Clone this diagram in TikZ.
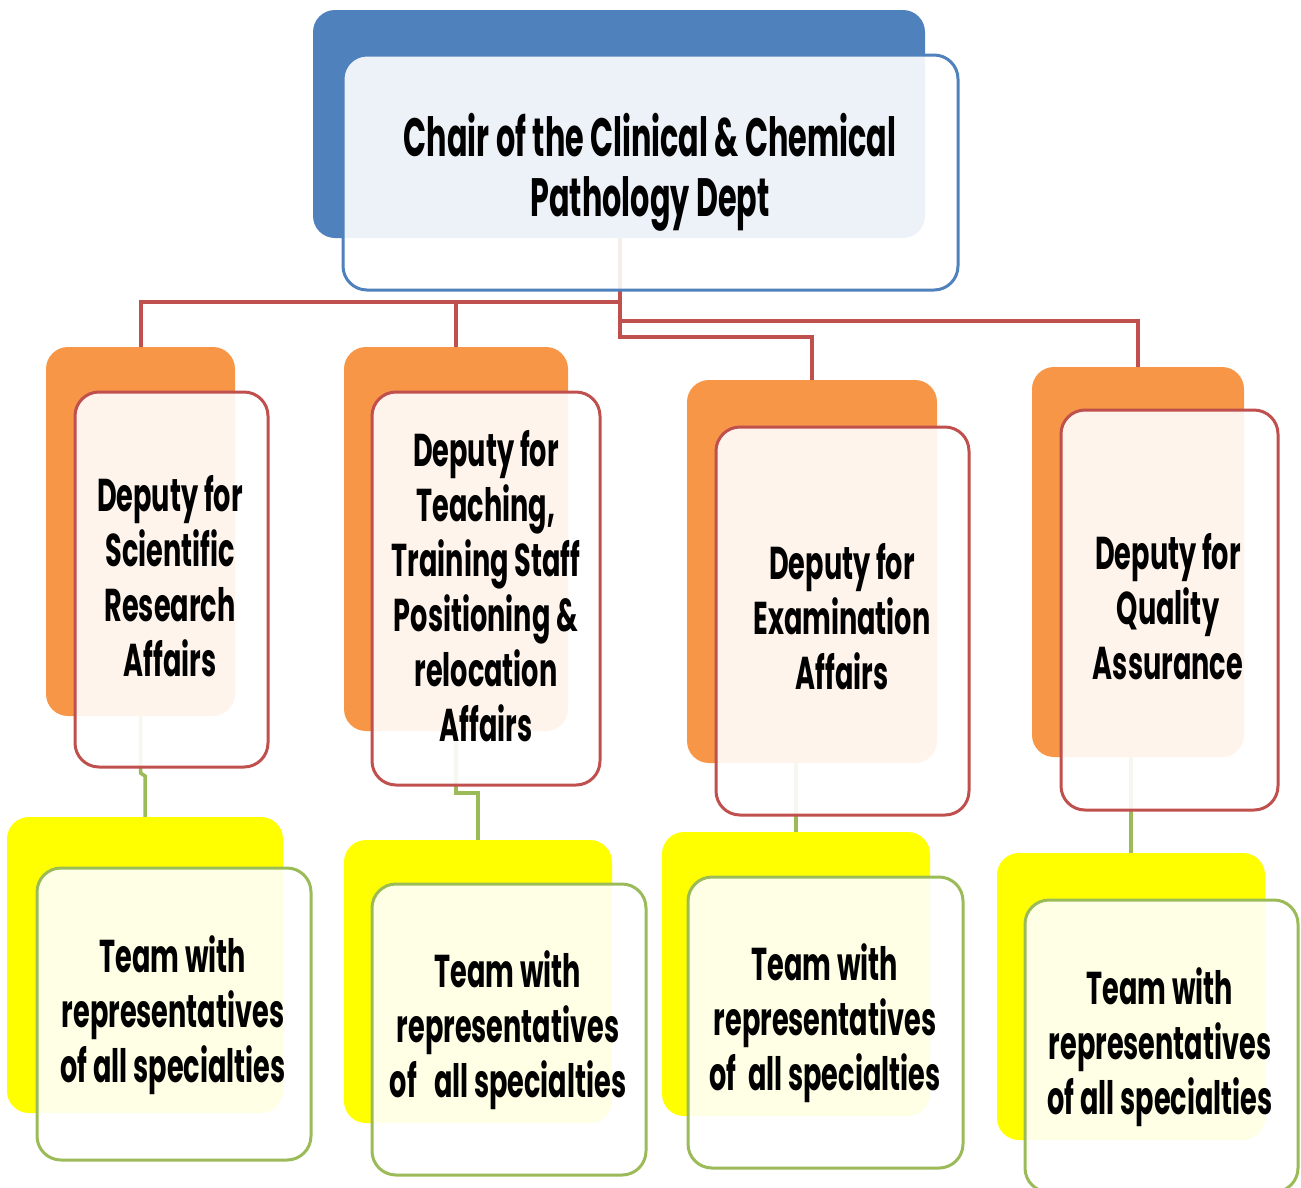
\documentclass[tikz,border=0pt]{standalone}
\usepackage{fontspec}
\newfontfamily\lab{Poppins}[FakeStretch=0.56]
\newfontfamily\labw{Poppins}[FakeStretch=0.59]
\definecolor{cblue}{HTML}{4F81BD}
\definecolor{cred}{HTML}{C0504D}
\definecolor{corange}{HTML}{F79646}
\definecolor{cgreen}{HTML}{9BBB59}
\definecolor{cyellow}{HTML}{FFFF00}
\begin{document}
\begin{tikzpicture}[x=1pt,y=-1pt,
  backbox/.style={fill=#1, draw=none, rounded corners=22pt, inner sep=0pt, outer sep=0pt},
  frontbox/.style={draw=#1, line width=3pt, fill=white, fill opacity=0.9, rounded corners=24pt, inner sep=0pt, outer sep=0pt},
  redline/.style={draw=cred, line width=4pt},
  greenline/.style={draw=cgreen, line width=3.5pt},
  lbl/.style={align=center, inner sep=0pt, font=\labw\bfseries\fontsize{46}{55}\selectfont},
  biglbl/.style={align=center, inner sep=0pt, font=\lab\bfseries\fontsize{54}{60}\selectfont}]
\useasboundingbox (0,0) rectangle (1301,1187);
% coordinates for the junctions
\coordinate (r1) at (620,302);
\coordinate (r2) at (620,321);
\coordinate (r3) at (620,337);
% box geometry
\path (619,124) node[minimum width=612pt, minimum height=228pt, inner sep=0pt, outer sep=0pt] (chairB) {};
\path (140.5,531.5) node[minimum width=189pt, minimum height=369pt, inner sep=0pt, outer sep=0pt] (d1B) {};
\path (456,539) node[minimum width=224pt, minimum height=384pt, inner sep=0pt, outer sep=0pt] (d2B) {};
\path (812,571.5) node[minimum width=250pt, minimum height=383pt, inner sep=0pt, outer sep=0pt] (d3B) {};
\path (1138,562) node[minimum width=212pt, minimum height=390pt, inner sep=0pt, outer sep=0pt] (d4B) {};
\path (145,965) node[minimum width=276pt, minimum height=296pt, inner sep=0pt, outer sep=0pt] (t1B) {};
\path (478,981.5) node[minimum width=268pt, minimum height=283pt, inner sep=0pt, outer sep=0pt] (t2B) {};
\path (796,974) node[minimum width=268pt, minimum height=284pt, inner sep=0pt, outer sep=0pt] (t3B) {};
\path (1131,996.5) node[minimum width=268pt, minimum height=287pt, inner sep=0pt, outer sep=0pt] (t4B) {};
% connectors
\draw[redline] (chairB.south -| r1) -- (r3) -| (d3B.north);
\draw[redline] (r1) -| (d1B.north);
\draw[redline] (r1 -| d2B.north) -- (d2B.north);
\draw[redline] (r2) -| (d4B.north);
\draw[greenline] (d1B.south) -- ++(0,57) -- ++(4.5,3) -- (t1B.north);
\draw[greenline] (d2B.south) -- ++(0,62) -| (t2B.north);
\draw[greenline] (d3B.south -| t3B.north) -- (t3B.north);
\draw[greenline] (d4B.south -| t4B.north) -- (t4B.north);
% back boxes drawn
\node[backbox=cblue, minimum width=612pt, minimum height=228pt] (chairBk) at (chairB) {};
\node[backbox=corange, minimum width=189pt, minimum height=369pt] (d1Bk) at (d1B) {};
\node[backbox=corange, minimum width=224pt, minimum height=384pt] (d2Bk) at (d2B) {};
\node[backbox=corange, minimum width=250pt, minimum height=383pt] (d3Bk) at (d3B) {};
\node[backbox=corange, minimum width=212pt, minimum height=390pt] (d4Bk) at (d4B) {};
\node[backbox=cyellow, minimum width=276pt, minimum height=296pt] (t1Bk) at (t1B) {};
\node[backbox=cyellow, minimum width=268pt, minimum height=283pt] (t2Bk) at (t2B) {};
\node[backbox=cyellow, minimum width=268pt, minimum height=284pt] (t3Bk) at (t3B) {};
\node[backbox=cyellow, minimum width=268pt, minimum height=287pt] (t4Bk) at (t4B) {};
% front boxes
\node[frontbox=cblue, minimum width=615pt, minimum height=235pt] (chairF) at (650.5,172.5) {};
\node[frontbox=cred, minimum width=193pt, minimum height=375pt] (d1F) at (171.5,579.5) {};
\node[frontbox=cred, minimum width=228pt, minimum height=393pt] (d2F) at (486,588.5) {};
\node[frontbox=cred, minimum width=253pt, minimum height=388pt] (d3F) at (842.5,621) {};
\node[frontbox=cred, minimum width=217pt, minimum height=400pt] (d4F) at (1169.5,610) {};
\node[frontbox=cgreen, minimum width=274pt, minimum height=292pt] (t1F) at (174,1014) {};
\node[frontbox=cgreen, minimum width=274pt, minimum height=291pt] (t2F) at (509,1029.5) {};
\node[frontbox=cgreen, minimum width=275pt, minimum height=291pt] (t3F) at (825.5,1022.5) {};
\node[frontbox=cgreen, minimum width=273pt, minimum height=292pt] (t4F) at (1161.5,1046) {};
% labels
\node[biglbl] (chairT) at (650,172) {Chair of the Clinical \& Chemical\\Pathology Dept};
\node[lbl] (d1T) at (170,576) {Deputy for\\Scientific\\Research\\Affairs};
\node[lbl] (d2T) at (486,586) {Deputy for\\Teaching,\\Training Staff\\Positioning \&\\relocation\\Affairs};
\node[lbl] (d3T) at (842,617) {Deputy for\\Examination\\Affairs};
\node[lbl] (d4T) at (1168,607) {Deputy for\\Quality\\Assurance};
\node[lbl] (t1T) at (173,1015) {Team with\\representatives\\of all specialties};
\node[lbl] (t2T) at (508,1030) {Team with\\representatives\\of\ \ \ all specialties};
\node[lbl] (t3T) at (825,1023) {Team with\\representatives\\of\ \ all specialties};
\node[lbl] (t4T) at (1160,1047) {Team with\\representatives\\of all specialties};
\end{tikzpicture}
\end{document}
